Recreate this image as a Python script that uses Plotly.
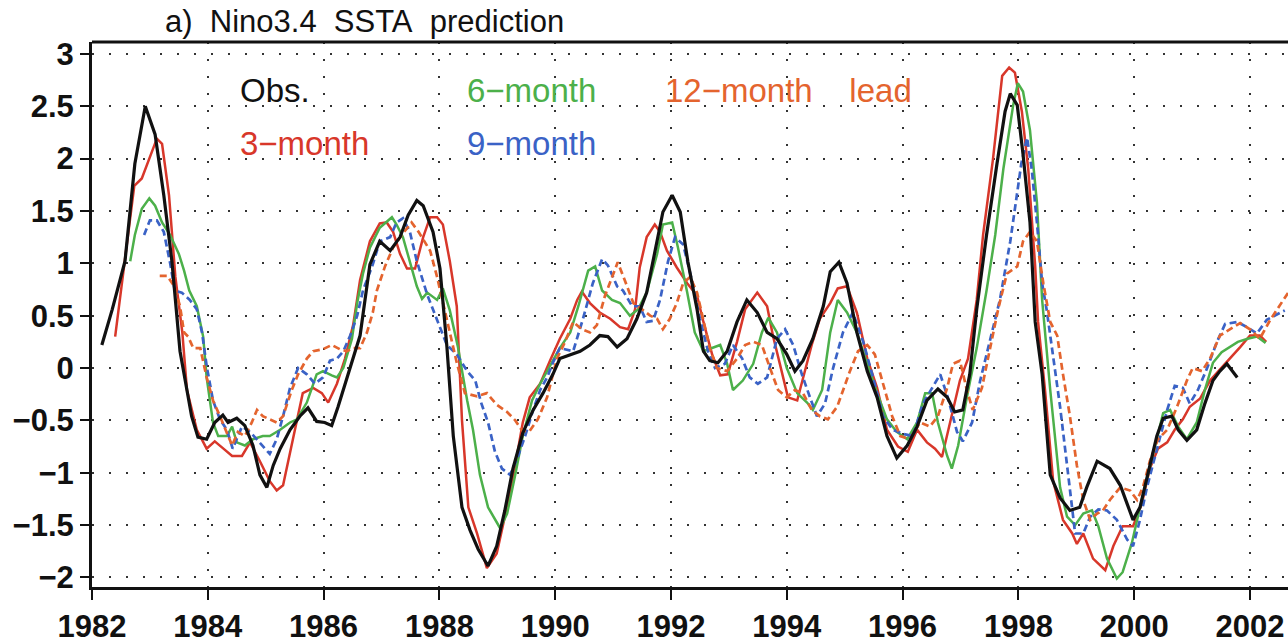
import plotly.graph_objects as go

# Nino3.4 SST anomaly: observed and predicted at several lead times
obs_t = [1982.17, 1982.35, 1982.57, 1982.74, 1982.92, 1983.09, 1983.24, 1983.38, 1983.52, 1983.57,
         1983.72, 1983.83, 1983.98, 1984.12, 1984.26, 1984.35, 1984.50, 1984.64, 1984.78, 1984.90,
         1985.02, 1985.13, 1985.25, 1985.42, 1985.59, 1985.73, 1985.88, 1986.02, 1986.14, 1986.25,
         1986.46, 1986.63, 1986.80, 1986.97, 1987.15, 1987.32, 1987.46, 1987.61, 1987.72, 1987.89,
         1988.01, 1988.13, 1988.24, 1988.39, 1988.53, 1988.67, 1988.84, 1988.99, 1989.13, 1989.27,
         1989.44, 1989.62, 1989.79, 1989.96, 1990.08, 1990.26, 1990.43, 1990.60, 1990.77, 1990.91,
         1991.07, 1991.24, 1991.41, 1991.58, 1991.72, 1991.86, 1992.02, 1992.16, 1992.29, 1992.45,
         1992.56, 1992.67, 1992.81, 1992.97, 1993.14, 1993.31, 1993.49, 1993.66, 1993.83, 1994.00,
         1994.14, 1994.28, 1994.45, 1994.63, 1994.75, 1994.90, 1995.04, 1995.21, 1995.39, 1995.56,
         1995.73, 1995.90, 1996.08, 1996.25, 1996.42, 1996.61, 1996.77, 1996.90, 1997.04, 1997.16,
         1997.28, 1997.45, 1997.63, 1997.77, 1997.86, 1997.98, 1998.08, 1998.20, 1998.29, 1998.41,
         1998.55, 1998.72, 1998.89, 1999.06, 1999.18, 1999.36, 1999.58, 1999.76, 1999.88, 1999.98,
         2000.10, 2000.27, 2000.39, 2000.50, 2000.65, 2000.76, 2000.91, 2001.08, 2001.22, 2001.36,
         2001.48, 2001.60, 2001.78]
obs_v = [0.22, 0.56, 1.02, 1.95, 2.50, 2.23, 1.65, 1.02, 0.16, 0.00,
         -0.46, -0.66, -0.68, -0.52, -0.45, -0.52, -0.48, -0.55, -0.74, -1.02,
         -1.14, -0.93, -0.77, -0.59, -0.46, -0.38, -0.51, -0.52, -0.55, -0.37,
         0.00, 0.31, 0.99, 1.21, 1.12, 1.25, 1.46, 1.60, 1.55, 1.30,
         0.95, 0.20, -0.65, -1.33, -1.55, -1.73, -1.89, -1.70, -1.36, -0.96,
         -0.62, -0.40, -0.24, -0.06, 0.09, 0.13, 0.16, 0.22, 0.31, 0.30,
         0.20, 0.28, 0.47, 0.72, 1.09, 1.49, 1.65, 1.49, 1.02, 0.56,
         0.16, 0.07, 0.05, 0.16, 0.44, 0.65, 0.53, 0.34, 0.28, 0.13,
         -0.03, 0.07, 0.28, 0.59, 0.92, 1.01, 0.81, 0.34, -0.03, -0.28,
         -0.65, -0.86, -0.74, -0.56, -0.31, -0.20, -0.28, -0.42, -0.40, -0.06,
         0.56, 1.27, 1.95, 2.45, 2.62, 2.51, 2.04, 1.39, 0.44, -0.06,
         -1.02, -1.24, -1.36, -1.33, -1.14, -0.89, -0.96, -1.12, -1.30, -1.45,
         -1.33, -0.93, -0.65, -0.48, -0.46, -0.59, -0.69, -0.59, -0.34, -0.12,
         -0.03, 0.04, -0.09]

lead3_t = [1982.40, 1982.57, 1982.73, 1982.86, 1983.00, 1983.12, 1983.21, 1983.33, 1983.44, 1983.56,
           1983.64, 1983.81, 1983.98, 1984.12, 1984.27, 1984.42, 1984.59, 1984.73, 1984.90, 1985.07,
           1985.19, 1985.30, 1985.47, 1985.64, 1985.82, 1985.97, 1986.08, 1986.23, 1986.37, 1986.51,
           1986.63, 1986.80, 1986.97, 1987.09, 1987.20, 1987.32, 1987.44, 1987.58, 1987.72, 1987.84,
           1987.96, 1988.06, 1988.18, 1988.30, 1988.39, 1988.50, 1988.65, 1988.82, 1988.99, 1989.13,
           1989.30, 1989.44, 1989.56, 1989.74, 1989.91, 1990.08, 1990.26, 1990.38, 1990.46, 1990.60,
           1990.77, 1990.95, 1991.12, 1991.26, 1991.38, 1991.46, 1991.58, 1991.72, 1991.81, 1991.93,
           1992.10, 1992.28, 1992.45, 1992.56, 1992.71, 1992.85, 1992.98, 1993.14, 1993.28, 1993.49,
           1993.66, 1993.76, 1993.88, 1994.02, 1994.18, 1994.28, 1994.43, 1994.57, 1994.75, 1994.88,
           1995.04, 1995.21, 1995.39, 1995.56, 1995.73, 1995.92, 1996.09, 1996.25, 1996.42, 1996.56,
           1996.68, 1996.82, 1996.99, 1997.13, 1997.28, 1997.39, 1997.56, 1997.72, 1997.84, 1997.94,
           1998.06, 1998.17, 1998.29, 1998.34, 1998.46, 1998.60, 1998.77, 1998.93, 1999.01, 1999.12,
           1999.29, 1999.50, 1999.64, 1999.80, 1999.98, 2000.13, 2000.27, 2000.41, 2000.57, 2000.70,
           2000.84, 2000.96, 2001.14, 2001.31, 2001.48, 2001.65, 2001.83, 2002.00, 2002.17, 2002.28]
lead3_v = [0.30, 1.02, 1.74, 1.81, 2.02, 2.19, 2.14, 1.65, 0.87, 0.34,
           -0.21, -0.59, -0.77, -0.70, -0.77, -0.84, -0.84, -0.71, -0.89, -1.08,
           -1.17, -1.12, -0.68, -0.24, -0.19, -0.24, -0.33, -0.15, 0.09, 0.41,
           0.84, 1.21, 1.38, 1.39, 1.30, 1.09, 0.95, 0.95, 1.25, 1.44,
           1.44, 1.37, 1.02, 0.59, -0.50, -1.33, -1.58, -1.91, -1.77, -1.42,
           -0.96, -0.52, -0.28, -0.15, 0.07, 0.28, 0.47, 0.65, 0.73, 0.62,
           0.53, 0.47, 0.39, 0.37, 0.56, 0.96, 1.25, 1.37, 1.30, 1.12,
           0.96, 0.81, 0.69, 0.44, 0.13, -0.07, -0.06, 0.25, 0.56, 0.72,
           0.59, 0.31, 0.04, -0.28, -0.31, -0.09, 0.22, 0.47, 0.62, 0.76,
           0.78, 0.53, 0.09, -0.19, -0.59, -0.75, -0.80, -0.59, -0.71, -0.77,
           -0.85, -0.52, -0.12, 0.09, 0.65, 1.27, 1.99, 2.79, 2.87, 2.82,
           2.45, 1.90, 0.97, 0.44, -0.21, -1.08, -1.45, -1.58, -1.68, -1.58,
           -1.82, -1.93, -1.70, -1.51, -1.51, -1.30, -0.96, -0.77, -0.71, -0.59,
           -0.49, -0.37, -0.29, -0.12, -0.01, 0.09, 0.20, 0.31, 0.31, 0.25]

lead6_t = [1982.66, 1982.74, 1982.86, 1982.99, 1983.09, 1983.21, 1983.35, 1983.50, 1983.59, 1983.68,
           1983.81, 1983.92, 1983.98, 1984.09, 1984.18, 1984.33, 1984.42, 1984.50, 1984.64, 1984.78,
           1984.95, 1985.07, 1985.25, 1985.42, 1985.54, 1985.71, 1985.88, 1985.99, 1986.14, 1986.23,
           1986.34, 1986.49, 1986.58, 1986.68, 1986.80, 1986.97, 1987.18, 1987.26, 1987.37, 1987.49,
           1987.61, 1987.70, 1987.79, 1987.96, 1988.06, 1988.18, 1988.32, 1988.48, 1988.58, 1988.70,
           1988.84, 1989.05, 1989.17, 1989.31, 1989.44, 1989.60, 1989.74, 1989.92, 1990.08, 1990.26,
           1990.40, 1990.57, 1990.69, 1990.81, 1990.98, 1991.12, 1991.29, 1991.43, 1991.58, 1991.76,
           1991.86, 1992.02, 1992.12, 1992.28, 1992.41, 1992.56, 1992.71, 1992.85, 1992.97, 1993.07,
           1993.24, 1993.42, 1993.57, 1993.68, 1993.83, 1994.00, 1994.18, 1994.35, 1994.45, 1994.61,
           1994.75, 1994.88, 1995.04, 1995.21, 1995.39, 1995.56, 1995.73, 1995.90, 1996.08, 1996.25,
           1996.39, 1996.51, 1996.61, 1996.77, 1996.85, 1996.96, 1997.11, 1997.28, 1997.45, 1997.60,
           1997.74, 1997.91, 1997.99, 1998.08, 1998.20, 1998.32, 1998.41, 1998.55, 1998.72, 1998.84,
           1998.98, 1999.12, 1999.27, 1999.38, 1999.53, 1999.70, 1999.80, 1999.96, 2000.10, 2000.24,
           2000.36, 2000.50, 2000.62, 2000.76, 2000.91, 2001.08, 2001.22, 2001.36, 2001.51, 2001.65,
           2001.79, 2001.96, 2002.12, 2002.27]
lead6_v = [1.02, 1.27, 1.52, 1.62, 1.55, 1.39, 1.27, 1.09, 0.93, 0.74,
           0.59, 0.30, -0.09, -0.52, -0.65, -0.65, -0.56, -0.71, -0.74, -0.68,
           -0.65, -0.65, -0.59, -0.52, -0.49, -0.33, -0.06, -0.03, -0.07, -0.09,
           0.00, 0.28, 0.62, 0.90, 1.15, 1.34, 1.44, 1.37, 1.25, 1.02,
           0.78, 0.66, 0.72, 0.65, 0.76, 0.55, 0.20, -0.31, -0.59, -1.02,
           -1.33, -1.53, -1.39, -1.02, -0.65, -0.31, -0.15, 0.03, 0.19, 0.34,
           0.59, 0.93, 0.97, 0.74, 0.65, 0.62, 0.50, 0.56, 0.72, 1.09,
           1.37, 1.39, 1.15, 0.72, 0.34, 0.16, 0.19, 0.22, 0.04, -0.21,
           -0.12, 0.04, 0.34, 0.48, 0.34, 0.00, -0.24, -0.33, -0.40, -0.21,
           0.34, 0.65, 0.53, 0.34, 0.04, -0.24, -0.49, -0.61, -0.68, -0.52,
           -0.24, -0.24, -0.52, -0.84, -0.96, -0.74, -0.28, 0.19, 0.74, 1.27,
           1.90, 2.51, 2.72, 2.64, 2.27, 1.58, 0.65, -0.21, -1.14, -1.42,
           -1.50, -1.39, -1.36, -1.51, -1.82, -2.01, -1.95, -1.67, -1.33, -1.02,
           -0.74, -0.43, -0.40, -0.56, -0.68, -0.52, -0.21, 0.05, 0.15, 0.20,
           0.25, 0.28, 0.30, 0.24]

lead9_t = [1982.90, 1983.00, 1983.12, 1983.24, 1983.35, 1983.43, 1983.55, 1983.69, 1983.81, 1983.90,
           1983.98, 1984.09, 1984.21, 1984.33, 1984.43, 1984.59, 1984.73, 1984.90, 1985.07, 1985.19,
           1985.30, 1985.42, 1985.56, 1985.71, 1985.85, 1985.99, 1986.11, 1986.23, 1986.34, 1986.46,
           1986.58, 1986.68, 1986.85, 1986.97, 1987.15, 1987.26, 1987.37, 1987.49, 1987.61, 1987.79,
           1987.96, 1988.13, 1988.30, 1988.48, 1988.62, 1988.72, 1988.84, 1988.96, 1989.08, 1989.22,
           1989.36, 1989.48, 1989.62, 1989.74, 1989.86, 1989.96, 1990.08, 1990.31, 1990.48, 1990.65,
           1990.81, 1990.91, 1991.07, 1991.17, 1991.33, 1991.46, 1991.58, 1991.69, 1991.81, 1991.95,
           1992.07, 1992.21, 1992.36, 1992.50, 1992.64, 1992.76, 1992.93, 1993.07, 1993.23, 1993.36,
           1993.50, 1993.66, 1993.83, 1993.97, 1994.11, 1994.26, 1994.40, 1994.52, 1994.66, 1994.80,
           1994.97, 1995.14, 1995.32, 1995.49, 1995.66, 1995.83, 1996.01, 1996.18, 1996.35, 1996.51,
           1996.65, 1996.78, 1996.94, 1997.04, 1997.20, 1997.34, 1997.51, 1997.68, 1997.86, 1997.96,
           1998.05, 1998.15, 1998.23, 1998.32, 1998.41, 1998.49, 1998.60, 1998.72, 1998.86, 1998.98,
           1999.12, 1999.24, 1999.38, 1999.53, 1999.70, 1999.88, 1999.98, 2000.10, 2000.22, 2000.39,
           2000.57, 2000.70, 2000.84, 2000.96, 2001.10, 2001.26, 2001.43, 2001.57, 2001.78, 2001.95,
           2002.12, 2002.29, 2002.47, 2002.60]
lead9_v = [1.27, 1.41, 1.41, 1.30, 1.00, 0.74, 0.72, 0.65, 0.56, 0.34,
           0.02, -0.31, -0.49, -0.59, -0.77, -0.56, -0.61, -0.71, -0.82, -0.68,
           -0.46, -0.19, 0.00, -0.06, -0.15, -0.09, 0.07, 0.09, 0.16, 0.31,
           0.50, 0.74, 0.99, 1.21, 1.25, 1.39, 1.43, 1.30, 1.02, 0.70,
           0.45, 0.22, 0.13, -0.03, -0.12, -0.33, -0.52, -0.80, -0.96, -1.02,
           -0.84, -0.65, -0.40, -0.21, -0.09, 0.05, 0.19, 0.16, 0.47, 0.81,
           1.04, 0.98, 0.78, 0.74, 0.59, 0.59, 0.44, 0.45, 0.65, 1.02,
           1.25, 1.18, 0.84, 0.47, 0.16, 0.00, 0.04, 0.22, 0.09, -0.09,
           -0.15, -0.09, 0.28, 0.37, 0.22, -0.06, -0.28, -0.46, -0.34, 0.00,
           0.34, 0.53, 0.25, -0.09, -0.46, -0.59, -0.63, -0.65, -0.34, -0.19,
           -0.06, -0.28, -0.61, -0.70, -0.52, -0.12, 0.28, 0.65, 1.21, 1.60,
           1.95, 2.20, 1.90, 1.39, 0.81, 0.55, 0.09, -0.37, -1.02, -1.58,
           -1.58, -1.42, -1.35, -1.36, -1.45, -1.64, -1.70, -1.45, -1.14, -0.77,
           -0.40, -0.17, -0.19, -0.34, -0.21, 0.00, 0.25, 0.42, 0.44, 0.39,
           0.33, 0.46, 0.51, 0.55]

lead12_t = [1983.17, 1983.30, 1983.42, 1983.52, 1983.59, 1983.66, 1983.75, 1983.87, 1983.98, 1984.09,
            1984.21, 1984.33, 1984.42, 1984.52, 1984.64, 1984.76, 1984.85, 1984.95, 1985.07, 1985.19,
            1985.30, 1985.45, 1985.56, 1985.71, 1985.82, 1985.99, 1986.14, 1986.28, 1986.40, 1986.51,
            1986.63, 1986.75, 1986.85, 1986.92, 1987.06, 1987.20, 1987.35, 1987.52, 1987.64, 1987.74,
            1987.84, 1987.96, 1988.06, 1988.18, 1988.30, 1988.44, 1988.65, 1988.82, 1988.99, 1989.17,
            1989.31, 1989.43, 1989.56, 1989.70, 1989.86, 1990.03, 1990.17, 1990.31, 1990.46, 1990.60,
            1990.72, 1990.86, 1990.98, 1991.08, 1991.20, 1991.35, 1991.50, 1991.64, 1991.76, 1991.86,
            1991.98, 1992.10, 1992.21, 1992.33, 1992.45, 1992.56, 1992.67, 1992.79, 1992.97, 1993.14,
            1993.28, 1993.42, 1993.57, 1993.71, 1993.85, 1994.00, 1994.14, 1994.28, 1994.43, 1994.57,
            1994.71, 1994.87, 1995.09, 1995.23, 1995.39, 1995.52, 1995.66, 1995.82, 1995.96, 1996.13,
            1996.30, 1996.47, 1996.61, 1996.77, 1996.87, 1996.99, 1997.11, 1997.21, 1997.37, 1997.51,
            1997.65, 1997.80, 1997.98, 1998.08, 1998.20, 1998.32, 1998.43, 1998.55, 1998.67, 1998.77,
            1998.89, 1999.01, 1999.12, 1999.24, 1999.36, 1999.46, 1999.58, 1999.76, 1999.93, 2000.05,
            2000.15, 2000.27, 2000.41, 2000.57, 2000.74, 2000.91, 2001.01, 2001.17, 2001.31, 2001.48,
            2001.65, 2001.83, 2002.00, 2002.17, 2002.35, 2002.52, 2002.66]
lead12_v = [0.88, 0.88, 0.78, 0.59, 0.34, 0.30, 0.19, 0.19, -0.09, -0.31,
            -0.46, -0.61, -0.74, -0.61, -0.65, -0.52, -0.40, -0.46, -0.49, -0.52,
            -0.46, -0.21, -0.06, 0.09, 0.16, 0.18, 0.22, 0.18, 0.16, 0.19,
            0.19, 0.34, 0.53, 0.74, 0.97, 1.15, 1.27, 1.39, 1.30, 1.21,
            1.12, 0.87, 0.62, 0.35, 0.05, -0.24, -0.27, -0.24, -0.35, -0.42,
            -0.50, -0.60, -0.60, -0.49, -0.28, 0.09, 0.25, 0.44, 0.37, 0.34,
            0.41, 0.69, 0.87, 1.01, 0.84, 0.62, 0.56, 0.50, 0.47, 0.37,
            0.47, 0.62, 0.81, 0.87, 0.72, 0.44, 0.19, 0.00, -0.03, 0.09,
            0.22, 0.25, 0.22, 0.00, -0.21, -0.28, -0.21, -0.24, -0.40, -0.46,
            -0.49, -0.37, -0.03, 0.16, 0.22, 0.13, -0.15, -0.46, -0.65, -0.68,
            -0.52, -0.56, -0.46, -0.19, 0.04, 0.07, -0.21, -0.40, -0.19, 0.19,
            0.56, 0.90, 0.97, 1.21, 1.30, 1.21, 0.81, 0.44, 0.31, -0.06,
            -0.46, -0.93, -1.26, -1.45, -1.39, -1.36, -1.26, -1.14, -1.17, -1.26,
            -1.14, -0.89, -0.68, -0.59, -0.37, -0.12, 0.00, -0.03, 0.09, 0.31,
            0.37, 0.43, 0.37, 0.28, 0.46, 0.60, 0.72]

year_ticks = list(range(1982, 2003, 2))
value_ticks = [-2, -1.5, -1, -0.5, 0, 0.5, 1, 1.5, 2, 2.5, 3]

series = [
    ("Obs.", obs_t, obs_v, "#111111", "solid", 3.2),
    ("3-month", lead3_t, lead3_v, "#d8372a", "solid", 2.5),
    ("6-month", lead6_t, lead6_v, "#4cb04a", "solid", 2.5),
    ("9-month", lead9_t, lead9_v, "#3a62c6", "7px,4px", 2.7),
    ("12-month lead", lead12_t, lead12_v, "#e4642e", "7px,4px", 2.7),
]

fig = go.Figure()
# leads first so the observed curve sits on top
for name, t, v, color, dash, width in series[1:] + series[:1]:
    fig.add_trace(go.Scatter(x=t, y=v, mode="lines", name=name,
                             line=dict(color=color, width=width, dash=dash)))

FONT = "Liberation Sans, Arial, sans-serif"
NB = "\u00a0"

# in-plot legend labels
labels = [
    ("Obs.", 1984.56, 2.65, "#111111"),
    ("6\u2212month", 1988.48, 2.65, "#4cb04a"),
    ("12\u2212month" + NB * 4 + "lead", 1991.90, 2.65, "#e4642e"),
    ("3\u2212month", 1984.56, 2.14, "#d8372a"),
    ("9\u2212month", 1988.48, 2.14, "#3a62c6"),
]
for text, x, y, color in labels:
    fig.add_annotation(x=x, y=y, text=text, showarrow=False, xanchor="left", yanchor="middle",
                       xshift=-2, font=dict(family=FONT, size=33, color=color))

# panel title
fig.add_annotation(xref="paper", yref="paper", x=(165 - 92) / (1288 - 92), y=1.0, yshift=21,
                   text="a)" + NB * 2 + "Nino3.4" + NB * 2 + "SSTA" + NB * 2 + "prediction",
                   showarrow=False, xanchor="left", yanchor="middle", xshift=-2,
                   font=dict(family=FONT, size=31, color="#111111"))

# top frame line (the plot area runs on past the right edge)
fig.add_shape(type="line", xref="paper", yref="paper", x0=0, x1=1, y0=1, y1=1,
              line=dict(color="#111111", width=3))

grid_style = dict(showgrid=True, gridcolor="#333333", gridwidth=1.8, griddash="2px,15px")
tick_font = dict(family=FONT, size=31, color="#111111", weight="bold")

fig.update_xaxes(range=[1982, 1982 + (1288 - 92) / 57.9], tickmode="array",
                 tickvals=year_ticks, ticktext=[str(y) for y in year_ticks],
                 ticks="outside", ticklen=10, tickwidth=2, tickcolor="#111111",
                 showline=True, linecolor="#111111", linewidth=3, zeroline=False,
                 tickfont=tick_font, **grid_style)
fig.update_yaxes(range=[-2.091, 3.113], tickmode="array",
                 tickvals=value_ticks,
                 ticktext=[("\u2212" if v < 0 else "") + f"{abs(v):g}" for v in value_ticks],
                 ticks="outside", ticklen=9, tickwidth=2, tickcolor="#111111",
                 showline=True, linecolor="#111111", linewidth=3, zeroline=False,
                 tickfont=tick_font, **grid_style)

fig.update_layout(width=1288, height=644, showlegend=False,
                  margin=dict(l=92, r=0, t=42, b=42),
                  paper_bgcolor="white", plot_bgcolor="white")

fig.write_html("out.html")
